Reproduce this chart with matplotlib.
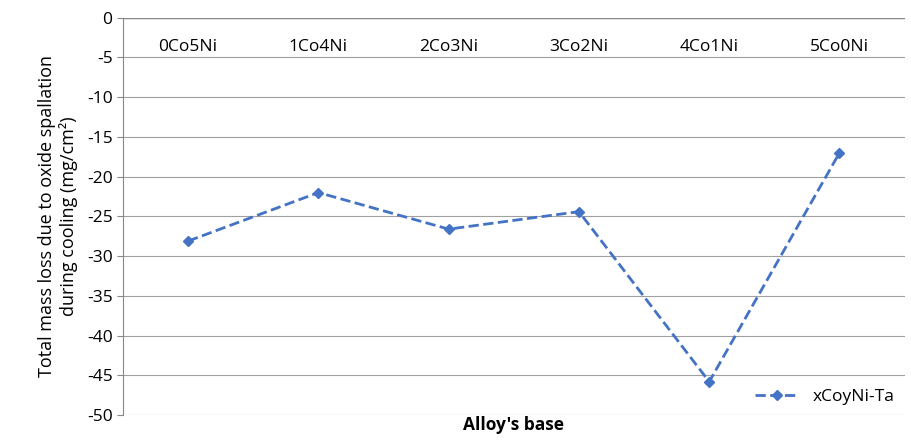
import numpy as np
import matplotlib.pyplot as plt

categories = ['0Co5Ni', '1Co4Ni', '2Co3Ni', '3Co2Ni', '4Co1Ni', '5Co0Ni']
mass_loss = [-28.1, -22.0, -26.6, -24.4, -45.8, -17.0]

plt.rcParams['font.family'] = ['Open Sans', 'DejaVu Sans']
plt.rcParams['axes.unicode_minus'] = False
fig, ax = plt.subplots(figsize=(9.11, 4.43), dpi=100)
fig.subplots_adjust(left=0.135, right=0.993, top=0.96, bottom=0.063)

x = np.arange(len(categories))
ax.plot(x, mass_loss, '--', color='#4472C4', lw=2, marker='D', ms=5, label='xCoyNi-Ta')

ax.set_xlim(-0.5, len(categories) - 0.5)
ax.set_ylim(-50, 0)
ax.set_yticks(np.arange(-50, 1, 5))
ax.yaxis.grid(True, color='#A0A0A0', lw=0.8)
ax.set_axisbelow(True)
ax.xaxis.tick_top()
ax.set_xticks(x)
ax.set_xticklabels(categories)
ax.tick_params(axis='x', length=0, pad=-27, labelsize=12.5)
ax.tick_params(axis='y', labelsize=12.5, length=4, color='#888888')
for s in ['top', 'right', 'bottom']:
    ax.spines[s].set_visible(False)
ax.spines['left'].set_color('#888888')
ax.axhline(0, color='#888888', lw=1)

ax.set_xlabel("Alloy's base", fontsize=12.5, fontweight='bold', labelpad=1)
ax.set_ylabel('Total mass loss due to oxide spallation\nduring cooling (mg/cm²)', fontsize=13, labelpad=6)
ax.legend(loc='lower right', frameon=False, fontsize=12.5, handlelength=2.5, borderaxespad=0.2)

fig.savefig('out.png')
